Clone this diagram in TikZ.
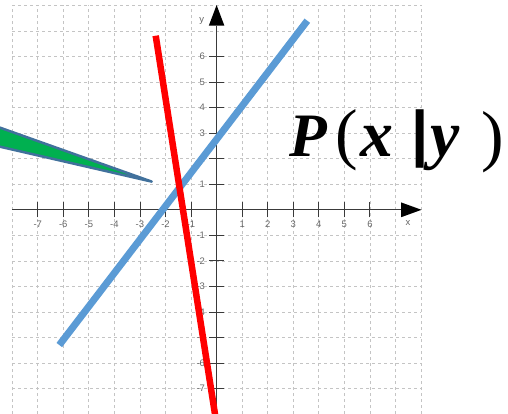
\documentclass[tikz,border=0pt]{standalone}
\usepackage{fontspec}
\setmainfont{Liberation Sans}
\newfontfamily\fmlfont{Liberation Serif}
\newfontfamily\barfont{Liberation Sans}
\definecolor{gridc}{HTML}{C4C4C4}
\definecolor{axisc}{HTML}{3A3A3A}
\definecolor{labc}{HTML}{666666}
\definecolor{blueln}{HTML}{5B9BD5}
\definecolor{wedgeg}{HTML}{00B050}
\definecolor{wedgeb}{HTML}{41719C}
\tikzset{
  gridline/.style={gridc, line width=0.8bp, dash pattern=on 3bp off 3bp},
  axisline/.style={axisc, line width=0.9bp},
  ticklab/.style={labc, font=\fontsize{9.5}{10}\selectfont, inner sep=0.5bp},
  formula/.style={inner sep=0pt, anchor=base west},
}
\begin{document}
\begin{tikzpicture}[x=1bp,y=-1bp]
\useasboundingbox (0,0) rectangle (508,413);
\begin{scope}[shift={(216.6,209.8)}, x=25.55bp, y=25.55bp]
  \foreach \k in {-8,...,8} {
    \draw[gridline] (\k,-8) -- (\k,8);
    \draw[gridline] (-8,\k) -- (8,\k);
  }
  \coordinate (xs) at (-8,0);
  \coordinate (xe) at (7.25,0);
  \coordinate (ys) at (0,-8.3);
  \coordinate (ye) at (0,7.2);
  \draw[axisline] (xs) -- (xe);
  \draw[axisline] (ys) -- (ye);
  \fill[black] (8.02,0) -- (7.22,0.29) -- (7.22,-0.29) -- cycle;
  \fill[black] (0,8.015) -- (-0.305,7.205) -- (0.305,7.205) -- cycle;
  \foreach \k in {-7,...,-1,1,2,...,6} {
    \draw[axisline] (\k,-0.3) -- (\k,0.3);
    \draw[axisline] (-0.3,\k) -- (0.3,\k);
    \node[ticklab] (xl\k) at (\k,-0.57) {\k};
    \node[ticklab, anchor=east] (yl\k) at (-0.43,\k) {\k};
  }
  \node[ticklab] (xlab) at (7.49,-0.53) {x};
  \node[ticklab] (ylab) at (-0.583,7.40) {y};
  \coordinate (b1) at (-6.157,-5.292);
  \coordinate (b2) at (3.550,7.401);
  \draw[blueln, line width=7bp] (b1) -- (b2);
\end{scope}
\coordinate (r1) at (155.7,35.7);
\coordinate (r2) at (215.6,418);
\draw[red, line width=6.5bp] (r1) -- (r2);
\coordinate (w1) at (-10,124.1);
\coordinate (w2) at (151.7,181.6);
\coordinate (w3) at (-10,144.4);
\filldraw[fill=wedgeg, draw=wedgeb, line width=2.5bp, line join=round] (w1) -- (w2) -- (w3) -- cycle;
\node[formula, font=\fmlfont\fontsize{62}{70}\selectfont\bfseries\itshape] (fP) at (289,156) {P};
\node[formula, font=\fmlfont\fontsize{68}{74}\selectfont] (fL) at (335,156) {(};
\node[formula, font=\fmlfont\fontsize{66}{72}\selectfont\bfseries\itshape] (fX) at (360,156) {x};
\node[formula, font=\barfont\fontsize{62}{70}\selectfont\bfseries] (fB) at (411,154) {|};
\node[formula, font=\fmlfont\fontsize{66}{72}\selectfont\bfseries\itshape] (fY) at (430,156) {y};
\node[formula, font=\fmlfont\fontsize{68}{74}\selectfont] (fR) at (481,158) {)};
\end{tikzpicture}
\end{document}
